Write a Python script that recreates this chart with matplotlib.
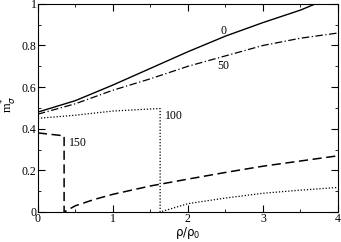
import numpy as np
import matplotlib.pyplot as plt
from matplotlib.ticker import MultipleLocator

# curve "0" (solid)
x0 = [0, 0.5, 1.0, 1.5, 2.0, 2.5, 3.0, 3.5, 3.7]
y0 = [0.48, 0.535, 0.61, 0.69, 0.77, 0.845, 0.91, 0.97, 1.0]

# curve "50" (dash-dot)
x50 = [0, 0.5, 1.0, 1.5, 2.0, 2.5, 3.0, 3.5, 4.0]
y50 = [0.47, 0.52, 0.585, 0.64, 0.70, 0.75, 0.80, 0.835, 0.86]

# curve "100" (dotted), jumps to zero at ~1.63
x100 = [0, 0.5, 1.0, 1.5, 1.63, 1.63, 2.0, 2.5, 3.0, 3.5, 4.0]
y100 = [0.45, 0.465, 0.485, 0.495, 0.497, 0.0, 0.04, 0.067, 0.09, 0.105, 0.118]

# curve "150" (dashed), jumps to zero at ~0.35
x150 = [0, 0.35, 0.35, 0.5, 0.75, 1.0, 1.5, 2.0, 2.5, 3.0, 3.5, 4.0]
y150 = [0.38, 0.366, 0.0, 0.03, 0.06, 0.085, 0.125, 0.158, 0.19, 0.22, 0.245, 0.27]

labels = ['0', '50', '100', '150']
label_pos = [(2.47, 0.872), (2.47, 0.70), (1.81, 0.46), (0.54, 0.33)]

plt.rcParams['font.family'] = ['Liberation Serif', 'DejaVu Serif']

fig = plt.figure(figsize=(3.41, 2.42), dpi=100)
ax = fig.add_axes([0.111, 0.124, 0.880, 0.860])

ax.plot(x0, y0, color='black', lw=1.0, ls='-')
ax.plot(x50, y50, color='black', lw=0.9, ls=(0, (6, 2, 1, 2)))
ax.plot(x100, y100, color='black', lw=0.9, ls=(0, (1, 1.5)))
ax.plot(x150, y150, color='black', lw=1.1, ls=(0, (6, 3)))

for lab, (lx, ly) in zip(labels, label_pos):
    ax.text(lx, ly, lab, fontsize=8.5, ha='center', va='center')

ax.set_xlim(0, 4)
ax.set_ylim(0, 1)
ax.xaxis.set_major_locator(MultipleLocator(1))
ax.xaxis.set_minor_locator(MultipleLocator(0.5))
ax.yaxis.set_major_locator(MultipleLocator(0.2))
ax.yaxis.set_minor_locator(MultipleLocator(0.1))
ax.xaxis.set_major_formatter(plt.FuncFormatter(lambda v, p: f"{v:g}"))
ax.yaxis.set_major_formatter(plt.FuncFormatter(lambda v, p: f"{v:g}"))
ax.tick_params(which='both', direction='in', top=True, right=True, labelsize=8.5, pad=1)
ax.tick_params(which='major', length=5)
ax.tick_params(which='minor', length=2.5)

ax.set_xlabel('ρ/ρ$_\\mathregular{0}$', fontsize=8.5, labelpad=0, family='DejaVu Sans')
ax.set_ylabel(r'$\mathregular{m}_{\sigma}^{*}$', fontsize=9)
ax.yaxis.set_label_coords(-0.062, 0.52)

fig.savefig('out.png', dpi=100)
